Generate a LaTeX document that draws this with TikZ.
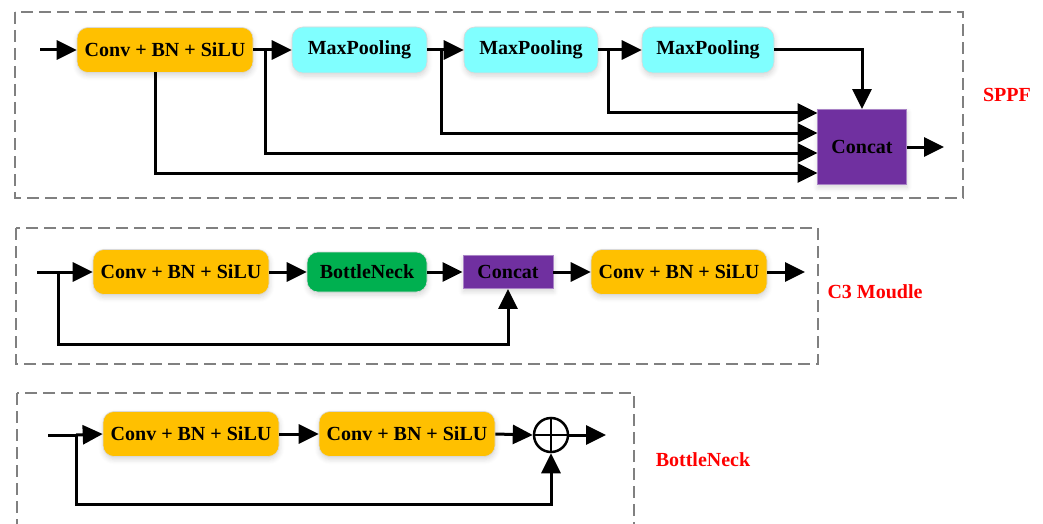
\documentclass[tikz,border=0pt]{standalone}
\usepackage{fontspec}
\setmainfont{Liberation Serif}
\usetikzlibrary{arrows.meta,shadows.blur}
\definecolor{convc}{HTML}{FFC000}
\definecolor{poolc}{HTML}{80FFFF}
\definecolor{neckc}{HTML}{00B050}
\definecolor{catc}{HTML}{7030A0}
\definecolor{framec}{HTML}{808080}
\definecolor{labelc}{HTML}{FF0000}
\tikzset{
  softshadow/.style={blur shadow={shadow xshift=0.5pt, shadow yshift=-3pt,
      shadow blur radius=5pt, shadow opacity=16, shadow blur steps=6}},
  blocktxt/.style={font=\bfseries\fontsize{20}{24}\selectfont, text=black},
  block/.style={blocktxt, rounded corners=11pt, minimum height=45pt,
      inner sep=0pt, draw=black!15, line width=0.6pt, softshadow},
  convbox/.style={block, fill=convc, minimum width=176pt},
  poolbox/.style={block, fill=poolc, minimum height=46pt},
  neckbox/.style={block, fill=neckc, minimum width=120pt, minimum height=40pt},
  catbox/.style={blocktxt, fill=catc, draw=catc!60!white, line width=0.8pt,
      inner sep=0pt, softshadow},
  wire/.style={line width=3pt, line join=miter},
  arr/.style={wire, -{Triangle[length=20pt,width=19pt]}},
  frame/.style={draw=framec, line width=2.5pt, dash pattern=on 12pt off 6pt},
  tag/.style={font=\bfseries\fontsize{20}{24}\selectfont, text=labelc},
}
\begin{document}
\begin{tikzpicture}[x=1pt, y=-1pt]
\useasboundingbox (0,0) rectangle (1043,524);

% ---------------- SPPF ----------------
\draw[frame] (15,12) rectangle (963,198);
\node[tag] (lsppf) at (1007,95) {SPPF};

\coordinate (sin) at (40,50);
\node[convbox] (c1) at (165,50) {Conv + BN + SiLU};
\node[poolbox, minimum width=135pt] (p1) at (359.5,50) {MaxPooling};
\node[poolbox, minimum width=134pt] (p2) at (531,50) {MaxPooling};
\node[poolbox, minimum width=132pt] (p3) at (708,50) {MaxPooling};
\node[catbox, minimum width=89pt, minimum height=75pt] (cc) at (862,147) {Concat};
\coordinate (sout) at (944,147);

\coordinate (t1) at (817.5,113);
\coordinate (t2) at (817.5,133);
\coordinate (t3) at (817.5,153);
\coordinate (t4) at (817.5,173);
\coordinate (b0) at (155,72.5);
\coordinate (b1) at (265,50);
\coordinate (b2) at (441.5,50);
\coordinate (b3) at (608,50);

\draw[arr] (sin) -- (c1.west);
\draw[arr] (c1.east) -- (p1.west);
\draw[arr] (p1.east) -- (p2.west);
\draw[arr] (p2.east) -- (p3.west);
\draw[arr] (p3.east) -| (cc.north);
\draw[arr] (b3) |- (t1);
\draw[arr] (b2) |- (t2);
\draw[arr] (b1) |- (t3);
\draw[arr] (b0) |- (t4);
\draw[arr] (cc.east) -- (sout);

% ---------------- C3 module ----------------
\draw[frame] (16,228) rectangle (818,364);
\node[tag] (lc3) at (875,292) {C3 Moudle};

\coordinate (kin) at (37,272);
\node[convbox] (k1) at (181,272) {Conv + BN + SiLU};
\node[neckbox] (bn) at (367,272) {BottleNeck};
\node[catbox, minimum width=90pt, minimum height=33pt] (kc) at (508,272) {Concat};
\node[convbox] (k2) at (679,272) {Conv + BN + SiLU};
\coordinate (kout) at (805,272);
\coordinate (kb) at (58,272);
\coordinate (kl) at (58,344);

\draw[wire] (kin) -- (kb);
\draw[arr] (kb) -- (k1.west);
\draw[arr] (k1.east) -- (bn.west);
\draw[arr] (bn.east) -- (kc.west);
\draw[arr] (kc.east) -- (k2.west);
\draw[arr] (k2.east) -- (kout);
\draw[arr] (kb) -- (kl) -| (kc.south);

% ---------------- BottleNeck ----------------
\draw[frame] (17,393) rectangle (634,560);
\node[tag] (lbn) at (703,460) {BottleNeck};

\coordinate (nin) at (48,435);
\node[convbox] (n1) at (191,434) {Conv + BN + SiLU};
\node[convbox] (n2) at (407,434) {Conv + BN + SiLU};
\node[circle, draw, line width=2.5pt, minimum size=34pt, inner sep=0pt, fill=white] (ox) at (551,435) {};
\draw[line width=2.5pt] (ox.north) -- (ox.south) (ox.west) -- (ox.east);
\coordinate (nout) at (606,435);
\coordinate (nb) at (76,435);
\coordinate (nl) at (76,504);

\draw[wire] (nin) -- (nb);
\draw[arr] (nb) -- (n1.west);
\draw[arr] (n1.east) -- (n2.west);
\draw[arr] (n2.east) -- (ox.west);
\draw[arr] (ox.east) -- (nout);
\draw[arr] (nb) -- (nl) -| (ox.south);
\end{tikzpicture}
\end{document}
